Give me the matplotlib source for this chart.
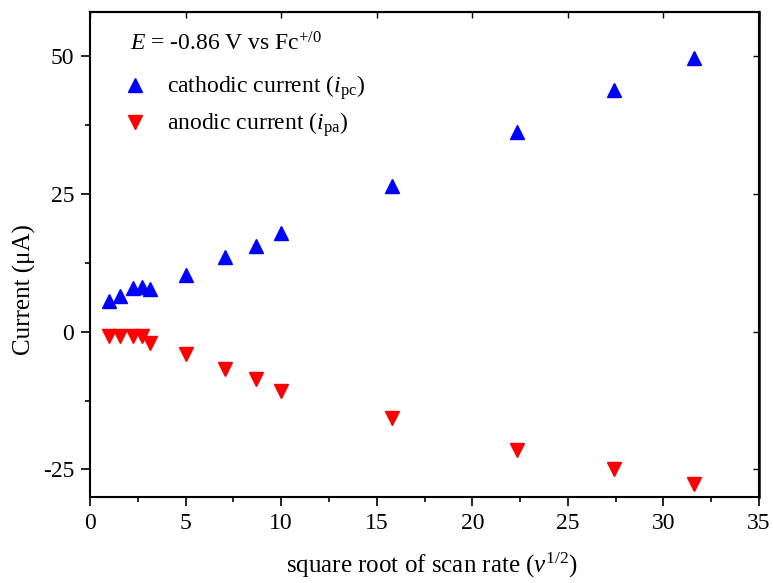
import numpy as np
import matplotlib
matplotlib.use("Agg")
import matplotlib.pyplot as plt
from matplotlib.ticker import MultipleLocator

plt.rcParams['font.family'] = ['Liberation Serif', 'DejaVu Serif']
plt.rcParams['mathtext.fontset'] = 'custom'
plt.rcParams['mathtext.rm'] = 'Liberation Serif'
plt.rcParams['mathtext.it'] = 'Liberation Serif:italic'
plt.rcParams['axes.unicode_minus'] = False

# square root of scan rate
sqrt_rate = [1.0, 1.58, 2.24, 2.74, 3.16, 5.0, 7.07, 8.66, 10.0, 15.81, 22.36, 27.39, 31.62]
# peak currents (uA)
i_pc = [5.5, 6.4, 8.0, 8.1, 7.7, 10.2, 13.5, 15.6, 17.9, 26.4, 36.2, 43.8, 49.7]
i_pa = [-0.7, -0.7, -0.7, -0.7, -2.1, -4.1, -6.7, -8.6, -10.7, -15.6, -21.5, -24.9, -27.6]

fig = plt.figure(figsize=(7.73, 5.83), dpi=100)
ax = fig.add_axes([0.1164, 0.1475, 0.8656, 0.832])

ax.plot(sqrt_rate, i_pc, linestyle='none', marker='^', markersize=9.5,
        color='#0000ff', label=r'cathodic current ($i_{\mathrm{pc}}$)')
ax.plot(sqrt_rate, i_pa, linestyle='none', marker='v', markersize=9.5,
        color='#ff0000', label=r'anodic current ($i_{\mathrm{pa}}$)')

ax.set_xlim(0, 35)
ax.set_ylim(-30, 58)
ax.xaxis.set_major_locator(MultipleLocator(5))
ax.xaxis.set_minor_locator(MultipleLocator(2.5))
ax.yaxis.set_major_locator(MultipleLocator(25))
ax.yaxis.set_minor_locator(MultipleLocator(12.5))

ax.tick_params(which='both', direction='out', top=False, right=False,
               labelsize=17, width=1.2)
ax.tick_params(which='major', length=6.5, pad=5)
ax.tick_params(which='minor', length=3.5)
for s in ax.spines.values():
    s.set_linewidth(1.5)

# inward ticks on the top and right frame
sec_x = ax.secondary_xaxis('top')
sec_x.xaxis.set_major_locator(MultipleLocator(5))
sec_x.tick_params(which='both', direction='in', labeltop=False, width=1.0)
sec_x.tick_params(which='major', length=4)
sec_x.tick_params(which='minor', length=0)
sec_x.spines['top'].set_linewidth(1.5)
sec_y = ax.secondary_yaxis('right')
sec_y.yaxis.set_major_locator(MultipleLocator(25))
sec_y.tick_params(which='both', direction='in', labelright=False, width=1.0)
sec_y.tick_params(which='major', length=4)
sec_y.tick_params(which='minor', length=0)
sec_y.spines['right'].set_linewidth(1.8)

ax.set_xlabel(r'square root of scan rate ($v^{1/2}$)', fontsize=18)
ax.set_ylabel('Current (μA)', fontsize=18)
ax.xaxis.set_label_coords(0.511, -0.112)
ax.yaxis.set_label_coords(-0.081, 0.427)

ax.text(0.06, 0.958, r'$E$ = -0.86 V vs Fc$^{+/0}$', transform=ax.transAxes,
        fontsize=17, va='top', ha='left')
ax.legend(loc='upper left', bbox_to_anchor=(0.032, 0.893), frameon=False,
          fontsize=17, handletextpad=0.75, labelspacing=0.35, borderaxespad=0,
          handlelength=1.2)

fig.savefig('out.png', dpi=100)
